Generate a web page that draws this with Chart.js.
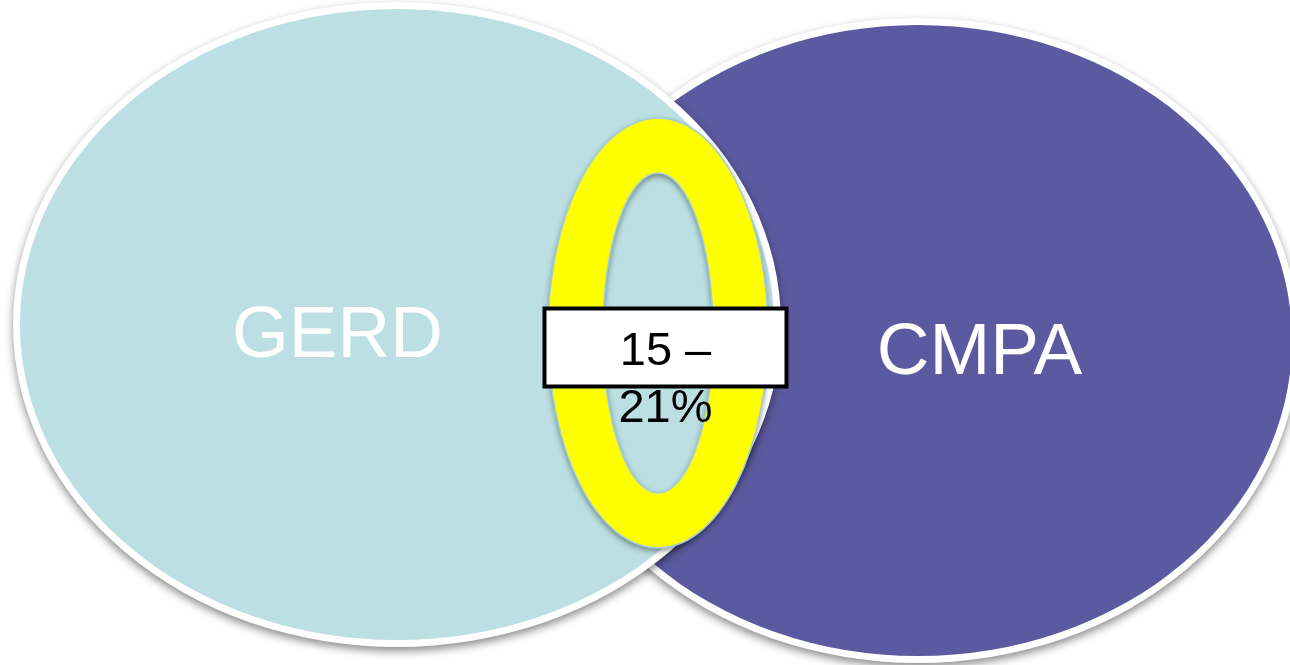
<!DOCTYPE html>
<html>
<head>
<meta charset="utf-8">
<script src="https://cdn.jsdelivr.net/npm/chart.js@4.4.1/dist/chart.umd.min.js"></script>
<style>
  html, body { margin: 0; padding: 0; background: #fff; }
  #wrap { width: 1290px; height: 665px; position: relative; }
</style>
</head>
<body>
<div id="wrap"><canvas id="venn"></canvas></div>
<script>
// Two-set overlap diagram (GERD / CMPA), plotted on a hidden x/y plane

const setNames = ['GERD', 'CMPA'];
const setCenterX = [397, 918];
const setCenterY = [324.5, 340.5];
const setRadiusX = [377, 374];
const setRadiusY = [315.5, 315.5];
const setLabelX = [337.5, 979.5];
const setLabelY = [357, 374];

// overlap marker: ring in the lens + value box
const overlapLines = ['15 –', '21%'];
const ringCenter = [658, 333];
const ringOuter = [110, 215];
const ringInner = [55, 160];
const boxCorners = [[544.5, 308.5], [786.5, 386.5]];
const overlapTextY = [365, 422];

const SET_COLORS = ['#BBDFE2', '#5B5AA0'];
const RING_COLOR = '#FFFF00';
const FONT = '"Liberation Sans", Arial, sans-serif';

const vennPlugin = {
  id: 'venn',
  beforeDatasetsDraw(chart) {
    const { ctx, scales: { x, y } } = chart;
    const px = v => x.getPixelForValue(v);
    const py = v => y.getPixelForValue(v);
    const dx = (c, r) => Math.abs(px(c + r) - px(c));
    const dy = (c, r) => Math.abs(py(c + r) - py(c));
    const border = 7;

    // right set first, left one overlaps it
    for (let i = setNames.length - 1; i >= 0; i--) {
      const cx = px(setCenterX[i]), cy = py(setCenterY[i]);
      const rx = dx(setCenterX[i], setRadiusX[i]);
      const ry = dy(setCenterY[i], setRadiusY[i]);

      ctx.save();
      ctx.shadowColor = 'rgba(0,0,0,0.45)';
      ctx.shadowBlur = 8;
      ctx.shadowOffsetY = 4;
      ctx.beginPath();
      ctx.ellipse(cx, cy, rx + border, ry + border, 0, 0, Math.PI * 2);
      ctx.fillStyle = '#ffffff';
      ctx.fill();
      ctx.restore();

      ctx.beginPath();
      ctx.ellipse(cx, cy, rx, ry, 0, 0, Math.PI * 2);
      ctx.fillStyle = SET_COLORS[i];
      ctx.fill();
    }

    // yellow ring around the overlap
    const rcx = px(ringCenter[0]), rcy = py(ringCenter[1]);
    const path = new Path2D();
    path.ellipse(rcx, rcy, dx(ringCenter[0], ringOuter[0]), dy(ringCenter[1], ringOuter[1]), 0, 0, Math.PI * 2);
    path.ellipse(rcx, rcy, dx(ringCenter[0], ringInner[0]), dy(ringCenter[1], ringInner[1]), 0, Math.PI * 2, 0, true);
    ctx.save();
    ctx.shadowColor = 'rgba(0,0,0,0.45)';
    ctx.shadowBlur = 6;
    ctx.shadowOffsetY = 3;
    ctx.fillStyle = RING_COLOR;
    ctx.fill(path, 'evenodd');
    ctx.restore();
    ctx.strokeStyle = '#A3CFD6';
    ctx.lineWidth = 1.5;
    ctx.stroke(path);

    // set names
    ctx.fillStyle = '#ffffff';
    ctx.font = '73px ' + FONT;
    ctx.textAlign = 'center';
    ctx.textBaseline = 'alphabetic';
    setNames.forEach((name, i) => ctx.fillText(name, px(setLabelX[i]), py(setLabelY[i])));

    // value box
    const [b0, b1] = boxCorners;
    const bx = px(b0[0]), by = py(b0[1]);
    const bw = px(b1[0]) - bx, bh = py(b1[1]) - by;
    ctx.fillStyle = '#ffffff';
    ctx.fillRect(bx, by, bw, bh);
    ctx.strokeStyle = '#000000';
    ctx.lineWidth = 4;
    ctx.strokeRect(bx, by, bw, bh);

    ctx.fillStyle = '#000000';
    ctx.font = '47px ' + FONT;
    overlapLines.forEach((t, i) => ctx.fillText(t, bx + bw / 2, py(overlapTextY[i])));
  }
};

new Chart(document.getElementById('venn'), {
  type: 'scatter',
  data: {
    datasets: [{
      label: 'sets',
      data: setNames.map((n, i) => ({ x: setCenterX[i], y: setCenterY[i] })),
      pointRadius: 0,
      pointHoverRadius: 0
    }]
  },
  options: {
    responsive: true,
    maintainAspectRatio: false,
    animation: false,
    layout: { padding: 0 },
    plugins: { legend: { display: false }, tooltip: { enabled: false } },
    scales: {
      x: { type: 'linear', min: 0, max: 1290, display: false },
      y: { type: 'linear', min: 0, max: 665, reverse: true, display: false }
    }
  },
  plugins: [vennPlugin]
});
</script>
</body>
</html>
